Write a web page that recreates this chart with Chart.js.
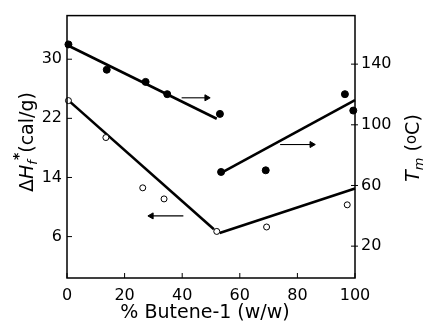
<!DOCTYPE html>
<html>
<head>
<meta charset="utf-8">
<script src="https://cdn.jsdelivr.net/npm/chart.js@4/dist/chart.umd.min.js"></script>
<style>
html,body{margin:0;padding:0;background:#fff;}
#wrap{width:427px;height:333px;position:relative;}
</style>
</head>
<body>
<div id="wrap"><canvas id="c" width="427" height="333"></canvas></div>
<script>
// ---- data ----
const xTicks = [0, 20, 40, 60, 80, 100];
const leftTicks = [6, 14, 22, 30];
const rightTicks = [20, 60, 100, 140];

// open circles: heat of fusion (left axis)
const dhX = [0.5, 13.5, 26.3, 33.7, 52, 69.3, 97.3];
const dhY = [24.4, 19.4, 12.6, 11.1, 6.7, 7.3, 10.3];
// filled circles: melting temperature (right axis)
const tmX = [0.5, 13.8, 27.3, 34.8, 53.1, 53.5, 69, 96.5, 99.4];
const tmY = [153, 136.3, 128.3, 120.2, 107.2, 68.9, 70, 120.2, 109.4];

// fitted lines
const dhFit1X = [0, 51], dhFit1Y = [24.6, 7.0];
const dhFit2X = [53, 100], dhFit2Y = [6.5, 12.5];
const tmFit1X = [0, 52], tmFit1Y = [152.6, 104];
const tmFit2X = [53.7, 100], tmFit2Y = [68.5, 116.3];

// arrows (tail -> head)
const arrTm1X = [39.8, 48.5], arrTm1Y = [117.8, 117.8];
const arrTm2X = [74, 85], arrTm2Y = [87, 87];
const arrDhX = [40.4, 29.3], arrDhY = [8.8, 8.8];

const pts = (xs, ys) => xs.map((x, i) => ({x: x, y: ys[i]}));
const FONT = "'DejaVu Sans', sans-serif";

function fitLine(xs, ys, axis) {
  return {type: 'line', data: pts(xs, ys), yAxisID: axis, borderColor: '#000', borderWidth: 2.6,
    pointRadius: 0, fill: false, clip: false, order: 2};
}
function arrow(xs, ys, axis, rot) {
  return {type: 'line', data: pts(xs, ys), yAxisID: axis, borderColor: '#000', borderWidth: 1.1,
    pointRadius: [0, 3.5], pointStyle: 'triangle', rotation: [0, rot], pointBackgroundColor: '#000',
    pointBorderColor: '#000', pointBorderWidth: 1, fill: false, clip: false, order: 1};
}

const frame = {
  id: 'frame',
  afterDraw(chart) {
    const ctx = chart.ctx, a = chart.chartArea;
    const sx = chart.scales.x, sl = chart.scales.yL, sr = chart.scales.yR;
    ctx.save();
    ctx.strokeStyle = '#000';
    ctx.lineWidth = 1.5;
    ctx.strokeRect(a.left, a.top, a.right - a.left, a.bottom - a.top);
    ctx.lineWidth = 1;
    ctx.beginPath();
    xTicks.forEach(v => { const p = sx.getPixelForValue(v); ctx.moveTo(p, a.bottom); ctx.lineTo(p, a.bottom - 5); });
    leftTicks.forEach(v => { const p = sl.getPixelForValue(v); ctx.moveTo(a.left, p); ctx.lineTo(a.left + 5, p); });
    rightTicks.forEach(v => { const p = sr.getPixelForValue(v); ctx.moveTo(a.right - 4, p); ctx.lineTo(a.right + 3, p); });
    ctx.stroke();

    // axis titles
    ctx.fillStyle = '#000';
    ctx.textBaseline = 'alphabetic';
    function drawParts(parts, cx, cy) {
      let w = 0;
      parts.forEach(p => { ctx.font = p.f; w += ctx.measureText(p.t).width; });
      let x = -w / 2;
      ctx.save();
      ctx.translate(cx, cy);
      ctx.rotate(-Math.PI / 2);
      parts.forEach(p => { ctx.font = p.f; ctx.fillText(p.t, x, 7 + (p.dy || 0)); x += ctx.measureText(p.t).width; });
      ctx.restore();
    }
    drawParts([
      {t: 'Δ', f: '19px ' + FONT},
      {t: 'H', f: 'italic 19px ' + FONT},
      {t: 'f', f: 'italic 13px ' + FONT, dy: 4},
      {t: '*', f: 'bold 14px ' + FONT, dy: -10},
      {t: '(cal/g)', f: '19px ' + FONT}
    ], 26, 142);
    drawParts([
      {t: 'T', f: 'italic 19px ' + FONT},
      {t: 'm', f: 'italic 13px ' + FONT, dy: 4},
      {t: ' (', f: '19px ' + FONT},
      {t: 'o', f: '15px ' + FONT, dy: -3},
      {t: 'C)', f: '19px ' + FONT}
    ], 412, 148);
    ctx.font = '19px ' + FONT;
    ctx.textAlign = 'center';
    ctx.textBaseline = 'middle';
    ctx.fillText('% Butene-1 (w/w)', (a.left + a.right) / 2 - 6, 313);
    ctx.restore();
  }
};

new Chart(document.getElementById('c'), {
  type: 'scatter',
  data: {
    datasets: [
      fitLine(dhFit1X, dhFit1Y, 'yL'),
      fitLine(dhFit2X, dhFit2Y, 'yL'),
      fitLine(tmFit1X, tmFit1Y, 'yR'),
      fitLine(tmFit2X, tmFit2Y, 'yR'),
      arrow(arrTm1X, arrTm1Y, 'yR', 90),
      arrow(arrTm2X, arrTm2Y, 'yR', 90),
      arrow(arrDhX, arrDhY, 'yL', -90),
      {type: 'scatter', label: 'ΔHf*', data: pts(dhX, dhY), yAxisID: 'yL', pointRadius: 3,
        pointBackgroundColor: '#fff', pointBorderColor: '#000', pointBorderWidth: 1, clip: false, order: 0},
      {type: 'scatter', label: 'Tm', data: pts(tmX, tmY), yAxisID: 'yR', pointRadius: 3.5,
        pointBackgroundColor: '#000', pointBorderColor: '#000', pointBorderWidth: 1, clip: false, order: 0}
    ]
  },
  options: {
    responsive: false,
    animation: false,
    layout: {padding: {top: 13, right: 0, left: 0, bottom: 0}},
    plugins: {legend: {display: false}, tooltip: {enabled: false}},
    scales: {
      x: {
        type: 'linear', position: 'bottom', min: 0, max: 100,
        afterBuildTicks: s => { s.ticks = xTicks.map(v => ({value: v})); },
        afterFit: s => { s.height = 55; },
        grid: {display: false, drawTicks: false}, border: {display: false},
        ticks: {color: '#000', font: {family: FONT, size: 16}, padding: 8, maxRotation: 0}
      },
      yL: {
        type: 'linear', position: 'left', min: 0.4, max: 35.9,
        afterBuildTicks: s => { s.ticks = leftTicks.map(v => ({value: v})); },
        afterFit: s => { s.width = 67; },
        grid: {display: false, drawTicks: false}, border: {display: false},
        ticks: {color: '#000', font: {family: FONT, size: 16}, padding: 5}
      },
      yR: {
        type: 'linear', position: 'right', min: -1, max: 172,
        afterBuildTicks: s => { s.ticks = rightTicks.map(v => ({value: v})); },
        afterFit: s => { s.width = 72; },
        grid: {display: false, drawTicks: false}, border: {display: false},
        ticks: {color: '#000', font: {family: FONT, size: 16}, padding: 6}
      }
    }
  },
  plugins: [frame]
});
</script>
</body>
</html>
